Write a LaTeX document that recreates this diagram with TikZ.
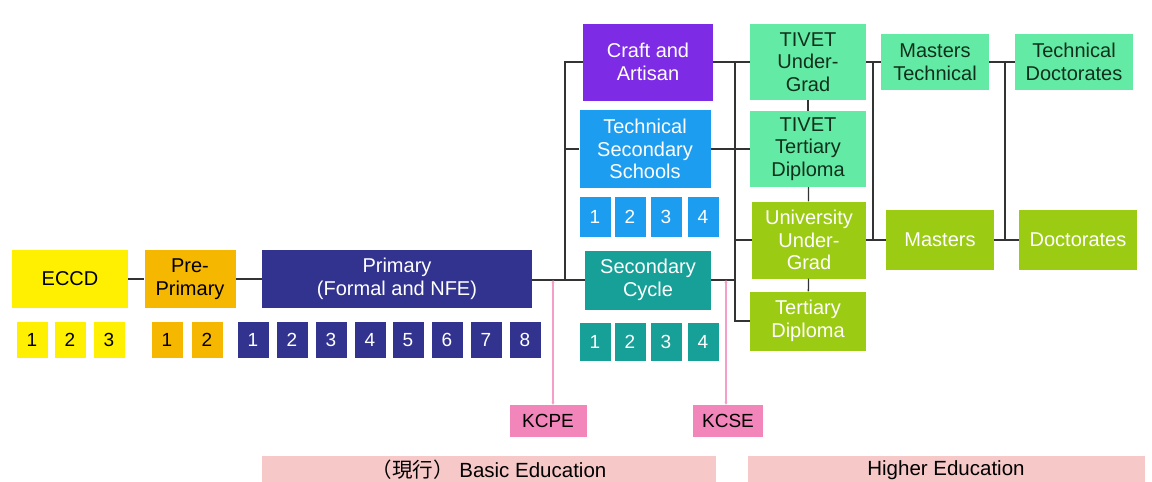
\documentclass[tikz,border=0pt]{standalone}
\usepackage{fontspec}
\setmainfont{Liberation Sans}
\newfontfamily\cjk{Noto Sans CJK JP}
\usepackage{tikz}
\usetikzlibrary{arrows.meta}
\usetikzlibrary{positioning}

\definecolor{eccdYellow}{HTML}{FFEF00}
\definecolor{preOrange}{HTML}{F6B700}
\definecolor{priNavy}{HTML}{32338F}
\definecolor{craftViolet}{HTML}{7E2BE6}
\definecolor{techBlue}{HTML}{1D9DF0}
\definecolor{secTeal}{HTML}{17A097}
\definecolor{tivetMint}{HTML}{63EAA4}
\definecolor{uniGreen}{HTML}{9CCB14}
\definecolor{examPink}{HTML}{F286BA}
\definecolor{barPink}{HTML}{F7C8C8}
\definecolor{linkGray}{HTML}{333333}
\definecolor{mintText}{HTML}{10301C}

\begin{document}
\begin{tikzpicture}[x=1pt, y=-1pt, font=\fontsize{20}{22.5}\selectfont]

    % Define styles
    \tikzstyle{stage} = [rectangle, inner sep=0pt, align=center]
    \tikzstyle{year} = [rectangle, inner sep=0pt, minimum width=31pt, minimum height=36pt, font=\fontsize{19}{22}\selectfont]
    \tikzstyle{link} = [draw=linkGray, line width=1.3pt]
    \tikzstyle{exam} = [rectangle, fill=examPink, inner sep=0pt, minimum height=32pt, font=\fontsize{19}{21}\selectfont]
    \tikzstyle{examline} = [draw=examPink!80, line width=1.2pt, {Stealth[length=3pt,width=3pt]}-{Stealth[length=3pt,width=3pt]}]
    \tikzstyle{band} = [rectangle, fill=barPink, inner sep=0pt, minimum height=28pt, font=\fontsize{20.5}{22}\selectfont]

    \useasboundingbox (0,0) rectangle (1152,482);

    % Basic stages
    \node[stage, fill=eccdYellow, minimum width=116pt, minimum height=58pt] (eccd) at (70,279) {ECCD};
    \node[stage, fill=preOrange, minimum width=91pt, minimum height=58pt] (prepri) at (190,279) {Pre-\\Primary};
    \node[stage, fill=priNavy, text=white, minimum width=270pt, minimum height=58pt] (primary) at (397,279) {Primary\\(Formal and NFE)};

    % Secondary stages
    \node[stage, fill=craftViolet, text=white, minimum width=130pt, minimum height=77pt] (craft) at (648,62) {Craft and\\Artisan};
    \node[stage, fill=techBlue, text=white, minimum width=131pt, minimum height=78pt] (techsec) at (645,149) {Technical\\Secondary\\Schools};
    \node[stage, fill=secTeal, text=white, minimum width=126pt, minimum height=59pt] (seccycle) at (648,280) {Secondary\\Cycle};

    % Tertiary stages
    \node[stage, fill=tivetMint, text=mintText, minimum width=116pt, minimum height=76pt] (tivetug) at (808,62) {TIVET\\Under-\\Grad};
    \node[stage, fill=tivetMint, text=mintText, minimum width=116pt, minimum height=76pt] (tivettd) at (808,149) {TIVET\\Tertiary\\Diploma};
    \node[stage, fill=uniGreen, text=white, minimum width=114pt, minimum height=77pt] (univ) at (809,240) {University\\Under-\\Grad};
    \node[stage, fill=uniGreen, text=white, minimum width=116pt, minimum height=59pt] (tertdip) at (808,321) {Tertiary\\Diploma};

    % Postgraduate stages
    \node[stage, fill=tivetMint, text=mintText, minimum width=108pt, minimum height=56pt] (mastech) at (935,62) {Masters\\Technical};
    \node[stage, fill=tivetMint, text=mintText, minimum width=118pt, minimum height=56pt] (techdoc) at (1074,62) {Technical\\Doctorates};
    \node[stage, fill=uniGreen, text=white, minimum width=108pt, minimum height=60pt] (masters) at (940,240) {Masters};
    \node[stage, fill=uniGreen, text=white, minimum width=118pt, minimum height=60pt] (doctor) at (1078,240) {Doctorates};

    % Grade years
    \foreach \n/\x in {1/32, 2/70, 3/109}
        \node[year, fill=eccdYellow] (eccdyr\n) at (\x,340) {\n};
    \foreach \n/\x in {1/167, 2/207}
        \node[year, fill=preOrange] (preyr\n) at (\x,340) {\n};
    \foreach \n/\x in {1/253, 2/292, 3/331, 4/370, 5/408, 6/447, 7/486, 8/525}
        \node[year, fill=priNavy, text=white] (priyr\n) at (\x,340) {\n};
    \foreach \n/\x in {1/595, 2/630, 3/666, 4/703}
        \node[year, fill=techBlue, text=white, minimum height=40pt] (techyr\n) at (\x,217) {\n};
    \foreach \n/\x in {1/595, 2/630, 3/666, 4/703}
        \node[year, fill=secTeal, text=white, minimum height=38pt] (secyr\n) at (\x,342) {\n};

    % Exams and bands
    \node[exam, minimum width=77pt] (kcpe) at (548,421) {KCPE};
    \node[exam, minimum width=70pt] (kcse) at (728,421) {KCSE};
    \node[band, minimum width=454pt] (basic) at (489,470) {{\cjk （現行）} Basic Education};
    \node[band, minimum width=397pt] (higher) at (946,470) {Higher Education};

    % Junction points
    \coordinate (trunkA) at (565,280);
    \coordinate (trunkB) at (735,280);
    \coordinate (trunkC) at (873,62);
    \coordinate (trunkD) at (1005,62);
    \coordinate (kcpetop) at (553,280);
    \coordinate (kcsetop) at (726,280);

    % Links
    \draw[link] (eccd) -- (prepri);
    \draw[link] (prepri) -- (primary);
    \draw[link] (primary.east |- trunkA) -- (seccycle.west);
    \draw[link] (craft.west) -| (trunkA);
    \draw[link] (techsec.west) -- (techsec.west -| trunkA);

    \draw[link] (craft) -- (tivetug);
    \draw[link] (techsec) -- (tivettd);
    \draw[link] (seccycle.east) -- (trunkB);
    \draw[link] (craft.east -| trunkB) -- (tertdip.west -| trunkB) -- (tertdip.west);
    \draw[link] (univ.west -| trunkB) -- (univ.west);
    \draw[link] (tivetug) -- (tivettd);
    \draw[link] (tivettd) -- (univ);
    \draw[link] (univ) -- (tertdip);

    \draw[link] (tivetug) -- (mastech);
    \draw[link] (univ) -- (masters);
    \draw[link] (trunkC) -- (masters.west -| trunkC);
    \draw[link] (mastech) -- (techdoc);
    \draw[link] (masters) -- (doctor);
    \draw[link] (trunkD) -- (doctor.west -| trunkD);

    % Exam lines
    \draw[examline] (kcpetop) -- (kcpe.north -| kcpetop);
    \draw[examline] (kcsetop) -- (kcse.north -| kcsetop);

\end{tikzpicture}
\end{document}
